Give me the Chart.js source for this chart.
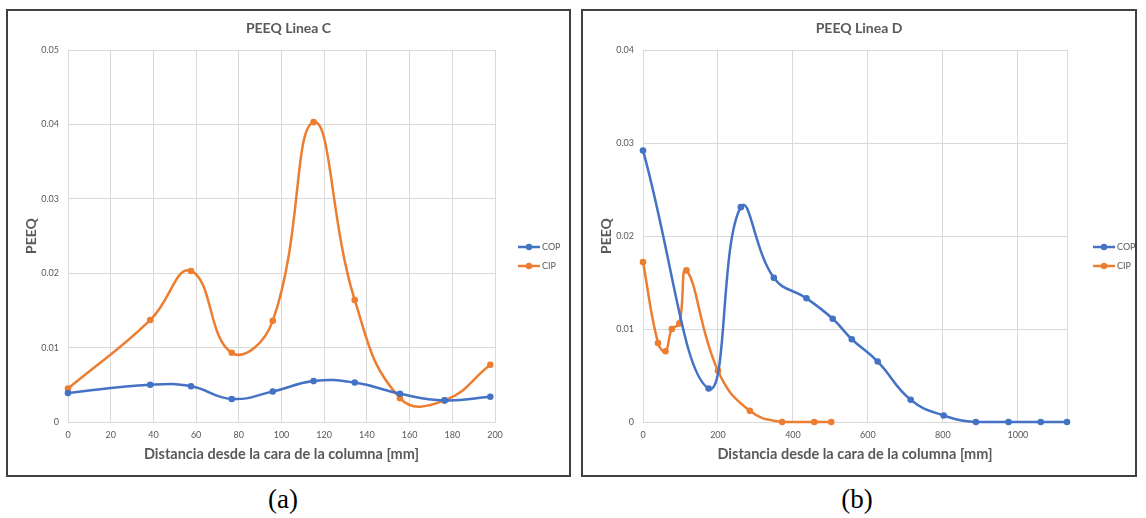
<!DOCTYPE html>
<html>
<head>
<meta charset="utf-8">
<title>PEEQ Linea C / Linea D</title>
<script src="https://cdn.jsdelivr.net/npm/chart.js@4.4.0/dist/chart.umd.min.js"></script>
<style>
    body { margin: 0; width: 1146px; height: 518px; background: #fff; position: relative; overflow: hidden; }
    .frame { position: absolute; top: 9px; height: 468px; border: 2px solid #404040; box-sizing: border-box; }
    .chart { position: absolute; top: 11px; height: 464px; }
    .caption { position: absolute; top: 484px; font-family: "Liberation Serif", serif; font-size: 27px; color: #000; transform: translateX(-50%); }
</style>
</head>
<body>
<div class="frame" style="left:6px;width:565px"></div>
<div class="frame" style="left:581px;width:556px"></div>
<div class="chart" style="left:8px;width:561px"><canvas id="chartC"></canvas></div>
<div class="chart" style="left:583px;width:552px"><canvas id="chartD"></canvas></div>
<div class="caption" style="left:283px">(a)</div>
<div class="caption" style="left:857px">(b)</div>

<script>
// Linea C - distancia [mm] y PEEQ
const distC = [0, 38.5, 57.6, 76.7, 95.9, 115, 134.3, 155.5, 176.4, 197.8];
const copC = [0.0039, 0.0050, 0.0048, 0.0031, 0.0041, 0.0055, 0.0053, 0.0038, 0.0029, 0.0034];
const cipC = [0.0045, 0.0137, 0.0203, 0.0093, 0.0136, 0.0403, 0.0164, 0.0032, 0.0029, 0.0077];
const xTicksC = [0, 20, 40, 60, 80, 100, 120, 140, 160, 180, 200];
const yTicksC = [0, 0.01, 0.02, 0.03, 0.04, 0.05];

// Linea D
const distCopD = [0, 175, 261, 349, 436, 506, 557, 626, 714, 802, 888, 975, 1061, 1131];
const copD = [0.0292, 0.0036, 0.0231, 0.0155, 0.0133, 0.0111, 0.0089, 0.0065, 0.0024, 0.0007, 0, 0, 0, 0];
const distCipD = [0, 40, 60, 77, 97, 116, 200, 285, 371, 457, 502];
const cipD = [0.0172, 0.0085, 0.0076, 0.0100, 0.0106, 0.0163, 0.0055, 0.0012, 0, 0, 0];
const xTicksD = [0, 200, 400, 600, 800, 1000];
const yTicksD = [0, 0.01, 0.02, 0.03, 0.04];

const BLUE = '#4472C4';
const ORANGE = '#ED7D31';
const GREY = '#595959';
const GRID = '#d9d9d9';

// leyenda estilo Excel: linea con punto
const sideLegend = {
    id: 'sideLegend',
    afterDraw(chart, args, opts) {
        const ctx = chart.ctx;
        chart.data.datasets.forEach((ds, i) => {
            const x = opts.left;
            const y = opts.top + i * opts.gap;
            ctx.save();
            ctx.strokeStyle = ds.borderColor;
            ctx.lineWidth = 2.5;
            ctx.beginPath();
            ctx.moveTo(x, y);
            ctx.lineTo(x + 22, y);
            ctx.stroke();
            ctx.fillStyle = ds.borderColor;
            ctx.beginPath();
            ctx.arc(x + 11, y, 3.2, 0, Math.PI * 2);
            ctx.fill();
            ctx.fillStyle = GREY;
            ctx.font = '9px Lato';
            ctx.textBaseline = 'middle';
            ctx.fillText(ds.label, x + 24, y);
            ctx.restore();
        });
    }
};

function points(xs, ys) {
    return xs.map((x, i) => ({x: x, y: ys[i]}));
}

function serie(label, color, data) {
    return {
        label: label,
        data: data,
        borderColor: color,
        backgroundColor: color,
        pointBackgroundColor: color,
        pointBorderWidth: 0,
        pointRadius: 3.3,
        borderWidth: 2.5,
        tension: 0.45,
        clip: false
    };
}

function makeChart(id, title, datasets, xTicks, yTicks, xMax, yMax, rightPad) {
    const ctx = document.getElementById(id).getContext('2d');
    return new Chart(ctx, {
        type: 'line',
        data: {datasets: datasets},
        plugins: [sideLegend],
        options: {
            responsive: true,
            maintainAspectRatio: false,
            animation: false,
            layout: {padding: 0},
            plugins: {
                legend: {display: false},
                tooltip: {enabled: false},
                title: {
                    display: true,
                    text: title,
                    color: GREY,
                    font: {family: 'Lato', size: 14, weight: 'bold'},
                    padding: {top: 8.6, bottom: 13.6}
                },
                sideLegend: {left: 510, top: 236, gap: 19}
            },
            scales: {
                x: {
                    type: 'linear',
                    min: 0,
                    max: xMax,
                    afterBuildTicks: s => {
                        const t = xTicks.map(v => ({value: v}));
                        if (xTicks[xTicks.length - 1] < xMax) t.push({value: xMax});
                        s.ticks = t;
                    },
                    afterFit: s => { s.height = 53; },
                    grid: {color: GRID, drawTicks: false},
                    border: {color: GRID},
                    ticks: {
                        padding: 8,
                        color: GREY,
                        font: {family: 'Lato', size: 9},
                        maxRotation: 0,
                        autoSkip: false,
                        callback: (v, i) => i < xTicks.length ? String(xTicks[i]) : ''
                    },
                    title: {
                        display: true,
                        text: 'Distancia desde la cara de la columna [mm]',
                        color: GREY,
                        font: {family: 'Lato', size: 14.5, weight: 'bold'},
                        padding: {top: 0, bottom: 12.3}
                    }
                },
                y: {
                    min: 0,
                    max: yMax,
                    afterBuildTicks: s => { s.ticks = yTicks.map(v => ({value: v})); },
                    afterFit: s => { s.width = 60; },
                    grid: {color: GRID, drawTicks: false},
                    border: {color: GRID},
                    ticks: {
                        padding: 9,
                        color: GREY,
                        font: {family: 'Lato', size: 9},
                        callback: (v, i) => String(yTicks[i])
                    },
                    title: {
                        display: true,
                        text: 'PEEQ',
                        color: GREY,
                        font: {family: 'Lato', size: 14, weight: 'bold'},
                        padding: {top: 14.6, bottom: 0}
                    }
                },
                // espacio a la derecha para la leyenda
                side: {
                    position: 'right',
                    min: 0,
                    max: yMax,
                    afterFit: s => { s.width = rightPad; },
                    grid: {display: false},
                    border: {display: false},
                    ticks: {display: false}
                }
            }
        }
    });
}

makeChart('chartC', 'PEEQ Linea C', [
    serie('COP', BLUE, points(distC, copC)),
    serie('CIP', ORANGE, points(distC, cipC))
], xTicksC, yTicksC, 200, 0.05, 74);

makeChart('chartD', 'PEEQ Linea D', [
    serie('COP', BLUE, points(distCopD, copD)),
    serie('CIP', ORANGE, points(distCipD, cipD))
], xTicksD, yTicksD, 1131, 0.04, 68);
</script>
</body>
</html>
